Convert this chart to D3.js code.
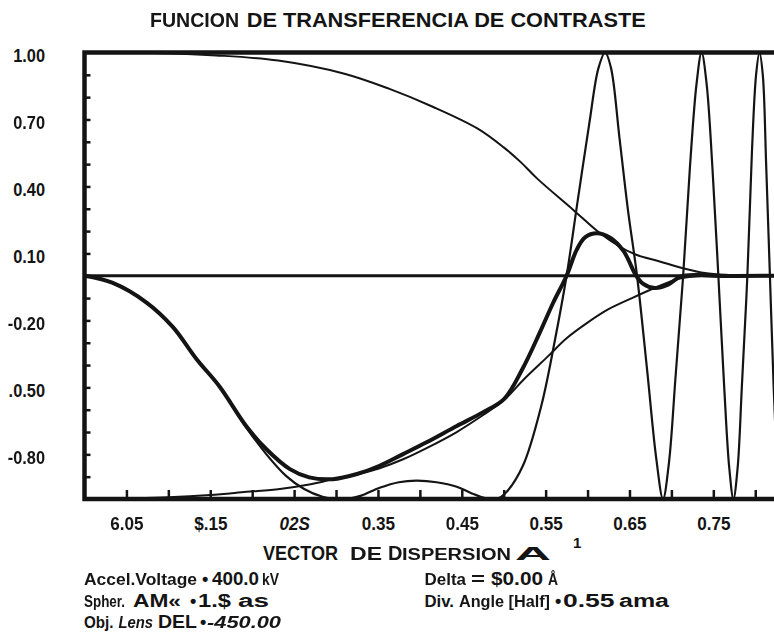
<!DOCTYPE html>
<html><head><meta charset="utf-8">
<script src="https://cdn.jsdelivr.net/npm/d3@7"></script>
<style>
html,body{margin:0;padding:0;background:#fff;}
svg{display:block;}
text{font-family:"Liberation Sans",Arial,sans-serif;font-weight:bold;fill:#141414;}
</style></head><body>
<svg id="chart" width="774" height="641"></svg>
<script>
// ---------------- DATA ----------------
const xTickValues = [0.05,0.10,0.15,0.20,0.25,0.30,0.35,0.40,0.45,0.50,0.55,0.60,0.65,0.70,0.75,0.80];
const xLabelValues = [0.05,0.15,0.25,0.35,0.45,0.55,0.65,0.75];
const xLabels = ["6.05","$.15","02S","0.35","0.45","0.55","0.65","0.75"];
const yTickValues = [-0.9,-0.8,-0.7,-0.6,-0.5,-0.4,-0.3,-0.2,-0.1,0.1,0.2,0.3,0.4,0.5,0.6,0.7,0.8,0.9];
const yLabelValues = [1.0,0.7,0.4,0.1,-0.2,-0.5,-0.8];
const yLabels = ["1.00","0.70","0.40","0.10","-0.20",".0.50","-0.80"];

// upper envelope (thin)
const envelopeUpper = [[0,1.0],[0.08,0.998],[0.157,0.987],[0.231,0.964],[0.31,0.905],[0.363,0.838],
  [0.416,0.756],[0.469,0.659],[0.5,0.575],[0.52,0.51],[0.54,0.435],[0.583,0.295],[0.615,0.19],
  [0.638,0.131],[0.658,0.094],[0.686,0.064],[0.714,0.034],[0.74,0.012],[0.765,0.004],[0.825,0.0]];
// lower envelope (thin)
const envelopeLower = [[0,-1.0],[0.1,-0.992],[0.15,-0.982],[0.193,-0.968],[0.233,-0.955],[0.268,-0.935],
  [0.296,-0.912],[0.325,-0.89],[0.352,-0.862],[0.38,-0.822],[0.408,-0.772],[0.444,-0.70],[0.475,-0.625],
  [0.5,-0.558],[0.525,-0.46],[0.553,-0.36],[0.575,-0.28],[0.6,-0.21],[0.625,-0.15],[0.653,-0.10],
  [0.68,-0.055],[0.71,-0.012],[0.74,0.0],[0.825,0.0]];
// undamped transfer function sin(chi) (thin, oscillating)
const ctfUndamped = [[0,0],[0.033,-0.031],[0.074,-0.12],[0.105,-0.228],[0.134,-0.375],[0.161,-0.497],
  [0.193,-0.68],[0.217,-0.8],[0.24,-0.895],[0.262,-0.955],[0.284,-0.99],[0.3,-1.0],[0.316,-0.998],
  [0.33,-0.985],[0.352,-0.95],[0.375,-0.925],[0.396,-0.918],[0.42,-0.925],[0.444,-0.945],[0.462,-0.975],
  [0.478,-0.996],[0.492,-1.0],[0.503,-0.97],[0.523,-0.85],[0.545,-0.58],[0.561,-0.29],[0.575,0.0],
  [0.588,0.33],[0.602,0.68],[0.613,0.93],[0.621,1.0],[0.628,0.93],[0.638,0.62],[0.648,0.3],[0.659,0.0],
  [0.671,-0.42],[0.682,-0.82],[0.69,-1.0],[0.697,-0.84],[0.705,-0.45],[0.714,0.0],[0.722,0.48],
  [0.73,0.86],[0.736,1.0],[0.742,0.86],[0.749,0.48],[0.756,0.0],[0.763,-0.5],[0.769,-0.86],[0.774,-1.0],
  [0.779,-0.86],[0.784,-0.5],[0.7906,0.0],[0.796,0.55],[0.801,0.9],[0.805,1.0],[0.809,0.9],[0.813,0.5],
  [0.8175,0.0],[0.822,-0.5],[0.826,-0.85]];
// damped transfer function (thick)
const ctfDamped = [[0,0],[0.033,-0.031],[0.074,-0.12],[0.105,-0.228],[0.134,-0.375],[0.161,-0.496],
  [0.193,-0.674],[0.217,-0.777],[0.245,-0.866],[0.268,-0.903],[0.296,-0.911],[0.325,-0.888],[0.352,-0.851],
  [0.38,-0.799],[0.408,-0.746],[0.444,-0.673],[0.475,-0.612],[0.5,-0.554],[0.522,-0.42],[0.543,-0.255],
  [0.559,-0.121],[0.575,0.0],[0.587,0.116],[0.597,0.172],[0.611,0.19],[0.627,0.17],[0.643,0.11],
  [0.658,0.0],[0.666,-0.035],[0.68,-0.055],[0.696,-0.04],[0.711,-0.003],[0.73,0.004],[0.75,0.0],[0.825,0.0]];

// ---------------- DRAW ----------------
const ink = "#141414";
const svg = d3.select("#chart");
const defs = svg.append("defs");
defs.append("filter").attr("id","blur").attr("x","-10%").attr("y","-20%").attr("width","120%").attr("height","140%")
  .append("feGaussianBlur").attr("stdDeviation",0.7);
defs.append("clipPath").attr("id","plotclip").append("rect")
  .attr("x",84.5).attr("y",51).attr("width",700).attr("height",450);

const x = d3.scaleLinear().domain([0,0.825]).range([84.5,776.2]);
const y = d3.scaleLinear().domain([-1,1]).range([499,52.5]);

// zero line
svg.append("line").attr("x1",x(0)).attr("x2",x(0.825)).attr("y1",y(0)).attr("y2",y(0))
  .attr("stroke",ink).attr("stroke-width",3);

// curves
const line = d3.line().x(d=>x(d[0])).y(d=>y(d[1])).curve(d3.curveCatmullRom.alpha(0.5));
const plot = svg.append("g").attr("clip-path","url(#plotclip)");
plot.append("path").datum(envelopeUpper).attr("d",line).attr("fill","none").attr("stroke",ink).attr("stroke-width",2);
plot.append("path").datum(envelopeLower).attr("d",line).attr("fill","none").attr("stroke",ink).attr("stroke-width",2);
plot.append("path").datum(ctfUndamped).attr("d",line).attr("fill","none").attr("stroke",ink).attr("stroke-width",2.2);
plot.append("path").datum(ctfDamped).attr("d",line).attr("fill","none").attr("stroke",ink).attr("stroke-width",4);

// frame
svg.append("path")
  .attr("d",`M${x(0.825)},${y(1)}H${x(0)}V${y(-1)}H${x(0.825)}`)
  .attr("fill","none").attr("stroke",ink).attr("stroke-width",4.5);

// ticks
const gxt = svg.append("g").attr("transform",`translate(0,${y(-1)})`)
  .call(d3.axisBottom(x).tickValues(xTickValues).tickSize(-9).tickFormat(""));
gxt.select(".domain").remove();
gxt.selectAll("line").attr("stroke",ink).attr("stroke-width",2.5);
const gyt = svg.append("g").attr("transform",`translate(${x(0)},0)`)
  .call(d3.axisLeft(y).tickValues(yTickValues).tickSize(-6).tickFormat(""));
gyt.select(".domain").remove();
gyt.selectAll("line").attr("stroke",ink).attr("stroke-width",2.5);

const blurred = new Set(["6.05","0.45","0.70","-0.20","-0.80"]);

// x labels
const gxl = svg.append("g").attr("transform","translate(0,530)")
  .call(d3.axisBottom(x).tickValues(xLabelValues).tickSize(0).tickPadding(0).tickFormat((d,i)=>xLabels[i]));
gxl.select(".domain").remove();
gxl.selectAll("text").attr("y",0).attr("dy",0).attr("font-size",19)
  .attr("font-family",'"Liberation Sans",Arial,sans-serif').attr("font-weight","bold")
  .attr("fill",ink).attr("transform","scale(0.9,1)")
  .attr("font-style",d=>d===0.25?"italic":"normal")
  .attr("filter",(d,i)=>blurred.has(xLabels[i])?"url(#blur)":null);

// y labels
const gyl = svg.append("g").attr("transform","translate(45,0)")
  .call(d3.axisLeft(y).tickValues(yLabelValues).tickSize(0).tickPadding(0).tickFormat((d,i)=>yLabels[i]));
gyl.select(".domain").remove();
gyl.selectAll("text").attr("x",0).attr("dy",0).attr("y",8.9).attr("font-size",18.5)
  .attr("font-family",'"Liberation Sans",Arial,sans-serif').attr("font-weight","bold")
  .attr("fill",ink).attr("transform","scale(0.885,1)")
  .attr("filter",(d,i)=>blurred.has(yLabels[i])?"url(#blur)":null);

// helper for free text
function txt(str, xx, yy, o={}){
  const t = svg.append("text").attr("x",xx).attr("y",yy).text(str)
    .attr("font-size",o.size||18)
    .attr("font-family",o.serif?'"Liberation Serif","Times New Roman",serif':'"Liberation Sans",Arial,sans-serif')
    .attr("font-weight",o.weight||"bold")
    .attr("font-style",o.italic?"italic":"normal");
  if(o.w){ t.attr("textLength",o.w).attr("lengthAdjust","spacingAndGlyphs"); }
  if(o.blur){ t.attr("filter","url(#blur)"); }
  return t;
}

// title
txt("FUNCION",150,27.3,{size:21,w:89,blur:true});
txt("DE TRANSFERENCIA DE CONTRASTE",246.7,27.3,{size:20.5,w:399});

// axis title
const ba = 560;
txt("VECTOR",263,ba,{size:20,w:75});
txt("DE",350,ba,{size:18,w:32,blur:true});
txt("D",388,ba,{size:20,blur:true});
txt("ISPERSION",402,ba,{size:16,w:109,blur:true});
txt("A",515,ba,{size:19,w:36});
txt("1",573,ba-12,{size:15});

// parameters
const b1 = 584.5, b2 = 606.5, b3 = 627.5;
txt("Accel.Voltage",84,b1,{serif:true,size:16,w:113,blur:true});
txt("•",202,b1,{});
txt("400.0",212,b1,{w:47});
txt("kV",262,b1,{serif:true,size:16,w:17,blur:true});
txt("Delta",424.5,b1,{serif:true,size:16,w:41.5,blur:true});
txt("=",471,b1,{w:14,blur:true});
txt("$0.00",491,b1,{w:52});
txt("Å",548,b1,{serif:true,size:17,w:10,blur:true});

txt("Spher.",84,b2,{serif:true,size:16,w:41,blur:true});
txt("AM«",133,b2,{w:48});
txt("•",190,b2,{});
txt("1.$",198,b2,{w:33});
txt("as",238,b2,{w:31});
txt("Div.",424.5,b2,{serif:true,size:16,w:29.5});
txt("Angle [Half]",459,b2,{serif:true,size:16,w:91,blur:true});
txt("•",555,b2,{});
txt("0.55",563,b2,{w:51.5});
txt("ama",619,b2,{w:50});

txt("Obj.",84,b3,{serif:true,size:16,w:29.5});
txt("Lens",118.5,b3,{serif:true,size:16,w:34.5,italic:true,blur:true});
txt("DEL",158,b3,{w:39});
txt("•",200,b3,{});
txt("-450.00",207,b3,{serif:true,size:16,w:74,italic:true,blur:true});
</script>
</body></html>
